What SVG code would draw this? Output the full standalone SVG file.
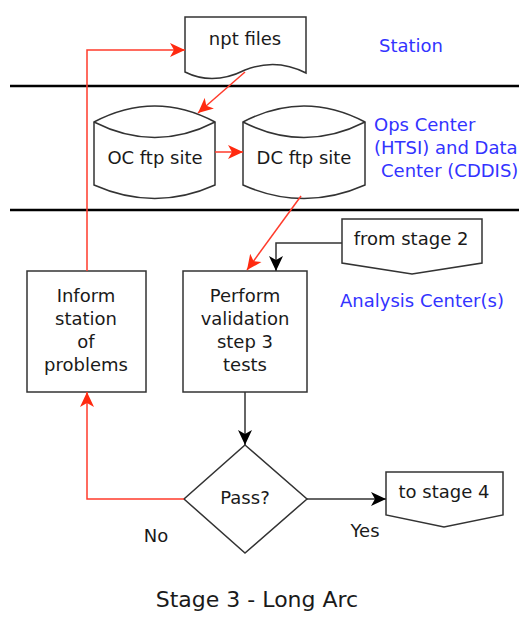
<svg xmlns="http://www.w3.org/2000/svg" width="519" height="620" viewBox="0 0 519 620">
<style>
.shape{fill:#fff;stroke:#333;stroke-width:1.5}
.t{font-family:"DejaVu Sans",sans-serif;font-size:18px;fill:#1a1a1a;text-anchor:middle}
.lbl{font-family:"DejaVu Sans",sans-serif;font-size:18px;fill:#3333ff}
.red{fill:none;stroke:#ff3b2b;stroke-width:1.5}
.blk{fill:none;stroke:#333;stroke-width:1.5}
.sep{stroke:#000;stroke-width:2.5}
</style>
<defs>
<marker id="ar" markerUnits="userSpaceOnUse" markerWidth="16" markerHeight="16" refX="15" refY="8" orient="auto" viewBox="0 0 16 16">
<path d="M0,1 L15,8 L0,15 L4,8 z" fill="#ff2a10"/>
</marker>
<marker id="ab" markerUnits="userSpaceOnUse" markerWidth="16" markerHeight="16" refX="15" refY="8" orient="auto" viewBox="0 0 16 16">
<path d="M0,1 L15,8 L0,15 L4,8 z" fill="#000"/>
</marker>
</defs>
<rect width="519" height="620" fill="#fff"/>
<line class="sep" x1="10" y1="86" x2="519" y2="86"/>
<line class="sep" x1="10" y1="210" x2="519" y2="210"/>
<g id="npt">
<path class="shape" d="M185,17 H306 V73 C285,62 265,62 245,70 C225,80 205,82 185,72 Z"/>
<text class="t" x="245" y="45">npt files</text>
</g>
<g id="oc">
<path class="shape" d="M94,122 Q155,90 215,122 L215,185 Q155,212 94,185 Z"/>
<path class="shape" d="M94,122 Q155,153 215,122" fill="none"/>
<text class="t" x="155" y="164">OC ftp site</text>
</g>
<g id="dc">
<path class="shape" d="M243,122 Q304,90 365,122 L365,185 Q304,212 243,185 Z"/>
<path class="shape" d="M243,122 Q304,153 365,122" fill="none"/>
<text class="t" x="304" y="164">DC ftp site</text>
</g>
<g id="from2">
<path class="shape" d="M342,219 H482 V263 L412,274 L342,263 Z"/>
<text class="t" x="411" y="245">from stage 2</text>
</g>
<g id="perform">
<rect class="shape" x="183" y="271" width="124" height="121"/>
<text class="t" x="245" y="302">Perform</text>
<text class="t" x="245" y="325">validation</text>
<text class="t" x="245" y="348">step 3</text>
<text class="t" x="245" y="371">tests</text>
</g>
<g id="inform">
<rect class="shape" x="27" y="271" width="119" height="121"/>
<text class="t" x="86" y="302">Inform</text>
<text class="t" x="86" y="325">station</text>
<text class="t" x="86" y="348">of</text>
<text class="t" x="86" y="371">problems</text>
</g>
<g id="pass">
<path class="shape" d="M245,445 L307,499 L245,553 L184,499 Z"/>
<text class="t" x="245" y="504">Pass?</text>
</g>
<g id="to4">
<path class="shape" d="M386,472 H503 V515 L444,527 L386,515 Z"/>
<text class="t" x="444" y="498">to stage 4</text>
</g>
<g id="connectors">
<path class="red" d="M245,72 L198,113" marker-end="url(#ar)"/>
<path class="red" d="M215,152 H243" marker-end="url(#ar)"/>
<path class="red" d="M301,196 L247,270" marker-end="url(#ar)"/>
<path class="blk" d="M342,243 H276 V271" marker-end="url(#ab)"/>
<path class="blk" d="M245,392 V445" marker-end="url(#ab)"/>
<path class="blk" d="M307,499 H386" marker-end="url(#ab)"/>
<path class="red" d="M184,499 H87 V392" marker-end="url(#ar)"/>
<path class="red" d="M87,271 V50 H185" marker-end="url(#ar)"/>
<text class="t" x="365" y="537">Yes</text>
<text class="t" x="156" y="542">No</text>
</g>
<g id="labels">
<text class="lbl" x="411" y="52" text-anchor="middle">Station</text>
<text class="lbl" x="374" y="131">Ops Center</text>
<text class="lbl" x="374" y="154">(HTSI) and Data</text>
<text class="lbl" x="381" y="177">Center (CDDIS)</text>
<text class="lbl" x="422" y="307" text-anchor="middle">Analysis Center(s)</text>
<text class="t" x="257" y="607" style="font-size:22px">Stage 3 - Long Arc</text>
</g>
</svg>
